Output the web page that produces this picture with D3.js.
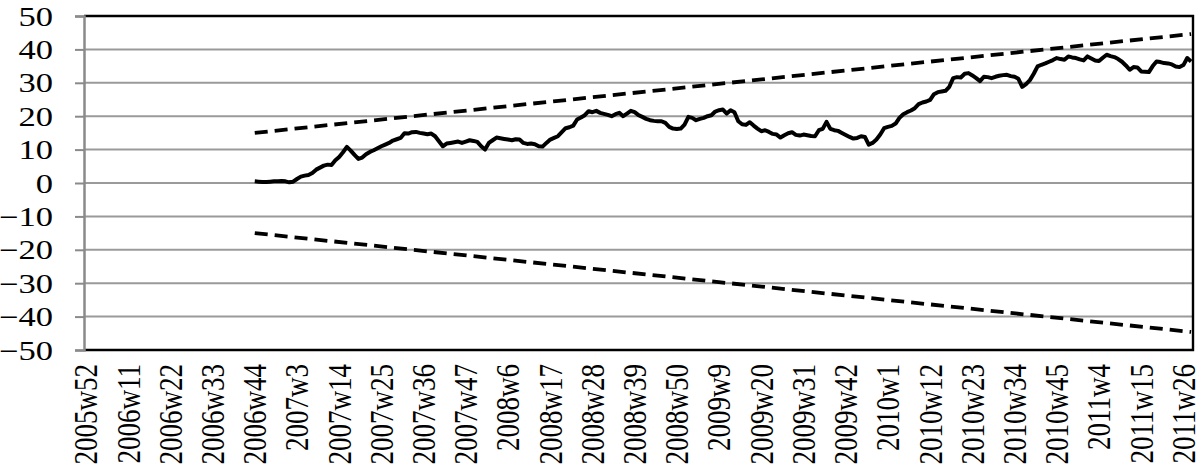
<!DOCTYPE html>
<html>
<head>
<meta charset="utf-8">
<script src="https://cdn.jsdelivr.net/npm/d3@7"></script>
<style>
	body { margin: 0; background: #fff; }
	svg { display: block; }
	text { font-family: "Liberation Serif", "Times New Roman", serif; fill: #000; }
</style>
</head>
<body>
<div id="chart"></div>
<script>
// weekly categories run 2005w52 .. 2011w28 (52 weeks per year)
var firstYear = 2005, firstWeek = 52, weekCount = 289;

var tickLabels = ["2005w52", "2006w11", "2006w22", "2006w33", "2006w44", "2007w3", "2007w14",
	"2007w25", "2007w36", "2007w47", "2008w6", "2008w17", "2008w28", "2008w39", "2008w50",
	"2009w9", "2009w20", "2009w31", "2009w42", "2010w1", "2010w12", "2010w23", "2010w34",
	"2010w45", "2011w4", "2011w15", "2011w26"];

var yTicks = [-50, -40, -30, -20, -10, 0, 10, 20, 30, 40, 50];

// the solid series, one value a week from 2006w44
var seriesStart = "2006w44";
var seriesValues = [
	0.5, 0.4, 0.3, 0.3, 0.4, 0.5, 0.5, 0.6, 0.5, 0.2,
	0.4, 1.2, 1.9, 2.2, 2.4, 3.0, 4.0, 4.6, 5.2, 5.5,
	5.4, 6.8, 7.8, 9.2, 10.8, 9.7, 8.4, 7.2, 7.6, 8.6,
	9.3, 9.8, 10.4, 11.0, 11.5, 12.0, 12.7, 13.1, 13.5, 14.9,
	14.8, 15.2, 15.3, 15.0, 14.8, 14.6, 14.8, 14.0, 12.5, 11.0,
	11.8, 12.0, 12.2, 12.4, 12.0, 12.4, 12.8, 12.6, 12.3, 11.0,
	10.0, 12.0, 12.8, 13.6, 13.4, 13.2, 13.0, 12.8, 13.1, 13.0,
	12.0, 11.7, 11.8, 11.6, 11.0, 10.9, 12.0, 13.0, 13.5, 14.0,
	15.2, 16.4, 16.7, 17.2, 19.0, 19.6, 20.3, 21.5, 21.2, 21.6,
	21.0, 20.7, 20.4, 20.0, 20.6, 21.0, 20.0, 20.8, 21.6, 21.2,
	20.3, 19.8, 19.2, 18.8, 18.6, 18.5, 18.5, 18.0, 16.8, 16.3,
	16.2, 16.3, 17.5, 19.8, 19.5, 18.8, 19.2, 19.5, 20.0, 20.3,
	21.4, 21.8, 22.0, 20.8, 21.8, 21.2, 18.5, 17.6, 17.4, 18.2,
	17.2, 16.3, 15.5, 15.8, 15.3, 14.7, 14.5, 13.6, 14.3, 14.9,
	15.2, 14.4, 14.2, 14.5, 14.3, 14.1, 14.0, 15.8, 16.2, 18.3,
	16.2, 15.8, 15.6, 15.0, 14.4, 13.8, 13.3, 13.5, 14.0, 13.8,
	11.5, 12.0, 13.0, 14.5, 16.4, 16.8, 17.1, 17.8, 19.5, 20.6,
	21.2, 21.7, 22.4, 23.6, 24.1, 24.4, 24.9, 26.6, 27.2, 27.4,
	27.6, 28.8, 31.4, 31.7, 31.6, 32.7, 32.9, 32.2, 31.4, 30.5,
	31.8, 31.7, 31.4, 31.8, 32.1, 32.3, 32.4, 32.0, 31.8, 31.2,
	28.8, 29.6, 30.8, 32.7, 34.9, 35.4, 35.8, 36.3, 36.8, 37.4,
	37.1, 36.9, 37.9, 37.6, 37.4, 37.0, 36.7, 37.9, 37.3, 36.7,
	36.5, 37.5, 38.4, 38.0, 37.7, 37.1, 36.3, 35.2, 33.9, 34.7,
	34.6, 33.4, 33.3, 33.2, 35.0, 36.4, 36.2, 35.9, 35.8, 35.5,
	34.9, 34.7, 35.3, 37.4, 36.4
];

// dashed control limits (straight lines)
var boundWeeks = ["2006w44", "2011w28"];
var upperBound = [15, 44.6];
var lowerBound = [-15, -44.6];

var width = 1203, height = 474;
var plotLeft = 84, plotRight = 1193, plotTop = 16, plotBottom = 350;
var stretch = 1.28; // text in the picture is wider than tall

var weeks = [];
for (var i = 0; i < weekCount; i++) {
	var n = firstWeek - 1 + i;
	weeks.push((firstYear + Math.floor(n / 52)) + "w" + (n % 52 + 1));
}

var svg = d3.select("#chart").append("svg")
	.attr("width", width)
	.attr("height", height);

var x = d3.scaleBand().domain(weeks).range([plotLeft, plotRight]).padding(0);
var y = d3.scaleLinear().domain([-50, 50]).range([plotBottom, plotTop]);
var cx = function(w) { return x(w) + x.bandwidth() / 2; };

// gridlines
svg.append("g")
	.selectAll("line")
	.data(yTicks)
	.enter()
	.append("line")
	.attr("x1", plotLeft).attr("x2", plotRight)
	.attr("y1", function(d) { return y(d); })
	.attr("y2", function(d) { return y(d); })
	.attr("stroke", "#9a9a9a")
	.attr("stroke-width", 2);

// plot frame: black top, right, bottom
svg.append("path")
	.attr("d", "M" + plotLeft + "," + plotTop + "H" + plotRight + "V" + plotBottom + "H" + plotLeft)
	.attr("fill", "none")
	.attr("stroke", "#000")
	.attr("stroke-width", 2.4);

// y axis
var yAxis = svg.append("g")
	.attr("transform", "translate(" + plotLeft + ",0)")
	.call(d3.axisLeft(y).tickValues(yTicks).tickSize(9).tickFormat(d3.format("d")));
yAxis.select(".domain").attr("stroke", "#8a8a8a").attr("stroke-width", 2.5);
yAxis.selectAll(".tick line").attr("stroke", "#8a8a8a").attr("stroke-width", 2);
yAxis.selectAll(".tick text")
	.attr("x", null)
	.attr("dy", "0.34em")
	.attr("font-size", 27)
	.attr("font-family", "Liberation Serif")
	.attr("transform", "translate(-31,0) scale(" + stretch + ",1)");

// x labels, rotated
svg.append("g")
	.selectAll("text")
	.data(tickLabels)
	.enter()
	.append("text")
	.attr("transform", function(d) {
		return "translate(" + cx(d) + ",364) scale(" + stretch + ",1) rotate(-90)";
	})
	.attr("text-anchor", "end")
	.attr("dy", "0.33em")
	.attr("font-size", 27)
	.text(function(d) { return d; });

// dashed bounds
var weekLine = d3.line()
	.x(function(d) { return cx(d.week); })
	.y(function(d) { return y(d.value); });

[upperBound, lowerBound].forEach(function(b) {
	svg.append("path")
		.datum(boundWeeks.map(function(w, k) { return { week: w, value: b[k] }; }))
		.attr("d", weekLine)
		.attr("fill", "none")
		.attr("stroke", "#000")
		.attr("stroke-width", 3.8)
		.attr("stroke-dasharray", "13,7");
});

// the series
var startIndex = weeks.indexOf(seriesStart);
var series = seriesValues.map(function(v, k) {
	return { week: weeks[startIndex + k], value: v };
});

svg.append("path")
	.datum(series)
	.attr("d", weekLine)
	.attr("fill", "none")
	.attr("stroke", "#000")
	.attr("stroke-width", 4)
	.attr("stroke-linejoin", "round");
</script>
</body>
</html>
